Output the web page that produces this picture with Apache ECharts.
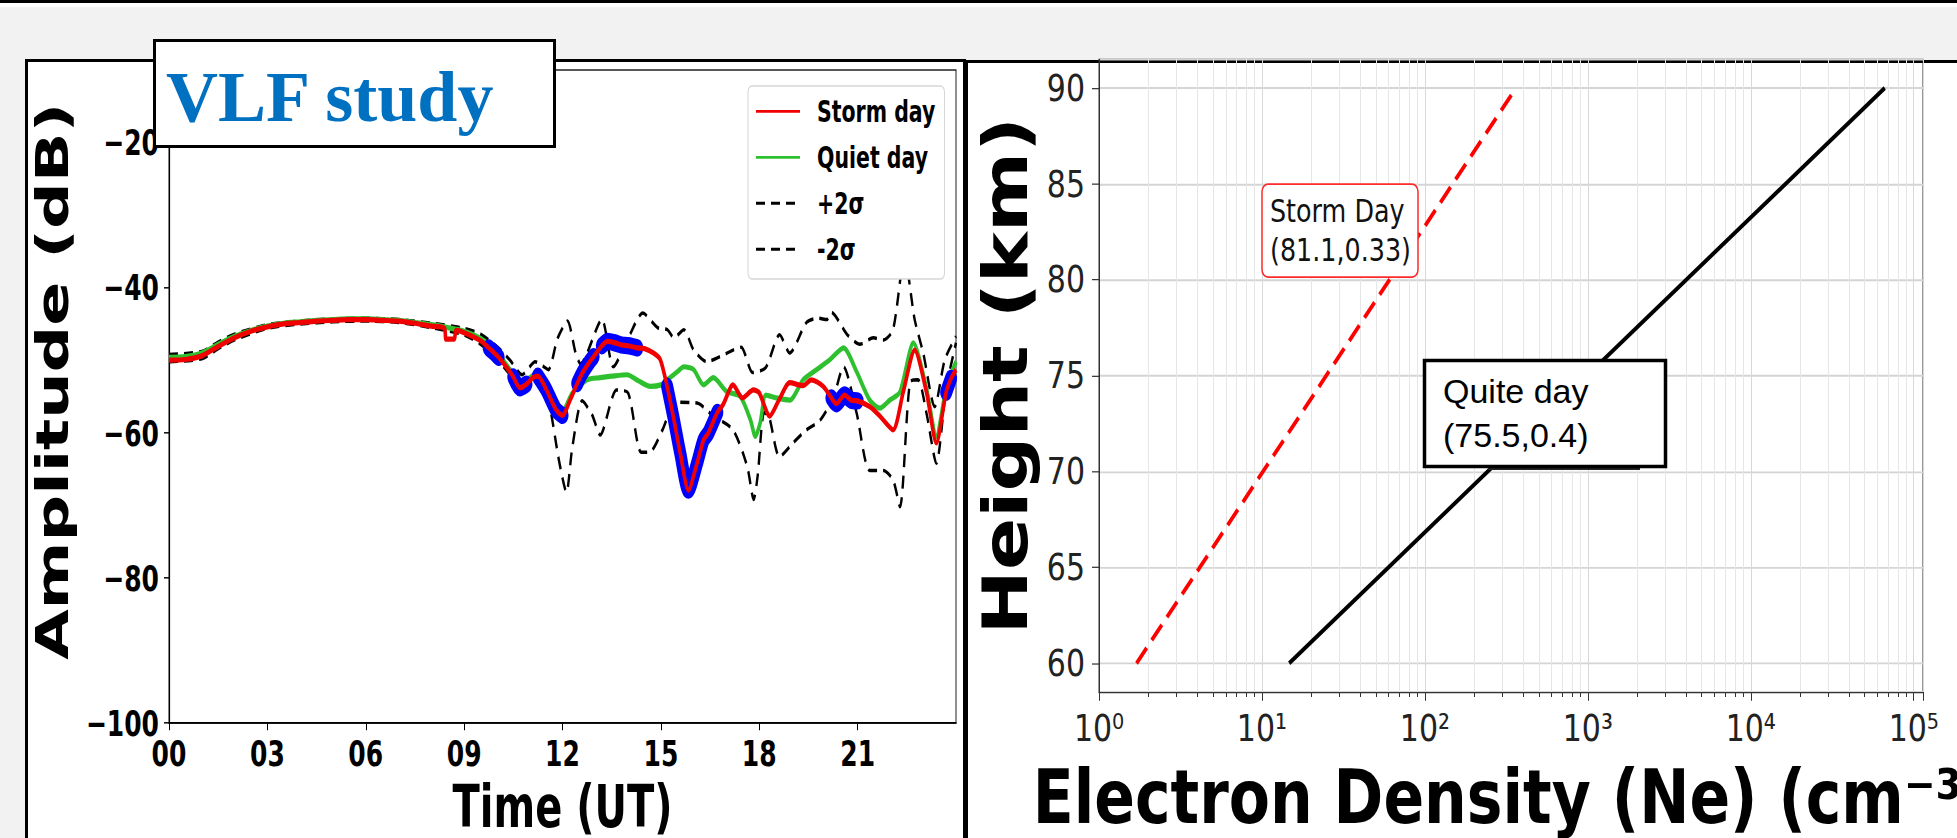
<!DOCTYPE html>
<html>
<head>
<meta charset="utf-8">
<title>VLF study</title>
<script src="https://cdn.jsdelivr.net/npm/echarts@6/dist/echarts.min.js"></script>
<style>
  html, body { margin: 0; padding: 0; }
  body { width: 1957px; height: 838px; background: #f2f2f2; position: relative; overflow: hidden; }
  .topbar { position: absolute; left: 0; top: 0; width: 1957px; height: 3px; background: #000; }
  .topwhite { position: absolute; left: 0; top: 3px; width: 1957px; height: 4px; background: #fff; }
  .panel-left { position: absolute; left: 25px; top: 59px; width: 935px; height: 800px; border: 3px solid #000; background: #fff; }
  .panel-right { position: absolute; left: 965px; top: 60px; width: 1000px; height: 800px; border-top: 3px solid #000; border-left: 3px solid #000; background: #fff; }
  /* both source figures are stretched vertically in the slide */
  #left { position: absolute; left: 0; top: 0; width: 968px; height: 578px; transform: scaleY(1.45); transform-origin: 0 0; }
  #right { position: absolute; left: 968px; top: 0; width: 989px; height: 676px; transform: scaleY(1.24); transform-origin: 0 0; }
  #overlay { position: absolute; left: 0; top: 0; width: 1957px; height: 838px; pointer-events: none; }
</style>
</head>
<body>
<div class="topbar"></div>
<div class="topwhite"></div>
<div class="panel-left"></div>
<div class="panel-right"></div>
<div id="left"></div>
<div id="right"></div>
<div id="overlay"></div>
<script>
// ---- left panel: VLF amplitude, [hour UT, dB]
var stormDay = [
  [0, -50.0], [0.5, -49.9], [1, -49.4], [1.5, -48.1], [2, -46.9], [2.5, -46.0], [3, -45.4], [3.5, -45.0],
  [4, -44.8], [4.5, -44.6], [5, -44.5], [5.5, -44.4], [6, -44.4], [6.5, -44.5], [7, -44.6], [7.5, -44.9],
  [8, -45.3], [8.4, -45.6], [8.45, -47.1], [8.7, -47.1], [8.75, -45.9], [9, -46.2], [9.5, -47.3],
  [9.75, -48.3], [9.9, -48.9], [10.05, -49.6], [10.3, -51.0], [10.5, -52.3], [10.7, -53.8], [10.9, -53.3],
  [11.1, -52.4], [11.25, -52.2], [11.5, -54.0], [11.8, -56.8], [12, -57.6], [12.24, -55.4], [12.45, -53.2],
  [12.6, -51.8], [12.8, -50.4], [12.95, -49.5], [13.2, -48.0], [13.37, -47.4], [13.6, -47.6], [13.8, -47.9],
  [14, -48.0], [14.28, -48.3], [14.5, -48.4], [14.77, -49.0], [14.98, -49.9], [15.19, -53.6], [15.38, -57.8],
  [15.59, -62.8], [15.84, -67.9], [16.11, -64.1], [16.3, -61.0], [16.45, -60.0], [16.72, -57.2], [16.9, -56.1],
  [17.2, -53.4], [17.49, -55.2], [17.82, -54.1], [18, -54.5], [18.32, -57.7], [18.6, -55.5], [18.93, -53.1],
  [19.34, -53.5], [19.59, -52.7], [19.95, -53.6], [20.2, -55.2], [20.35, -56.0], [20.6, -54.8], [20.8, -55.5],
  [21, -55.6], [21.37, -56.4], [21.68, -57.7], [22.08, -59.6], [22.39, -54.4], [22.74, -48.6], [23.1, -54.4],
  [23.4, -61.4], [23.7, -54.4], [23.85, -52.5], [24, -51.3]
];
var quietDay = [
  [0, -49.6], [0.5, -49.5], [1, -49.0], [1.5, -47.8], [2, -46.7], [2.5, -45.9], [3, -45.3], [3.5, -44.9],
  [4, -44.7], [4.5, -44.5], [5, -44.4], [5.5, -44.3], [6, -44.3], [6.5, -44.4], [7, -44.5], [7.5, -44.8],
  [8, -45.1], [8.5, -45.5], [9, -46.0], [9.5, -47.0], [10, -48.8], [10.4, -51.3], [10.75, -53.0], [11, -52.4],
  [11.25, -51.7], [11.5, -53.0], [11.8, -55.6], [12, -57.0], [12.3, -54.5], [12.75, -52.7], [13.15, -52.4],
  [13.5, -52.2], [13.97, -52.0], [14.3, -52.8], [14.68, -53.6], [15, -53.4], [15.2, -52.7], [15.5, -51.6],
  [15.7, -50.9], [16, -51.3], [16.3, -53.4], [16.6, -52.4], [17, -54.3], [17.42, -55.0], [17.73, -58.2],
  [17.88, -60.5], [18.03, -58.6], [18.2, -54.8], [18.52, -55.2], [18.93, -55.5], [19.34, -52.7], [19.75, -51.3],
  [20.16, -49.9], [20.57, -48.3], [20.97, -51.6], [21.37, -55.5], [21.68, -56.6], [21.98, -55.5], [22.29, -54.4],
  [22.7, -47.6], [23.1, -53.9], [23.4, -60.5], [23.7, -53.9], [24, -50.2]
];
var upper2Sigma = [
  [0, -49.2], [1, -48.8], [1.5, -47.5], [2, -46.4], [3, -45.1], [4, -44.6], [5, -44.3], [6, -44.2], [7, -44.4],
  [8, -44.9], [9, -45.6], [9.5, -46.4], [10.05, -48.3], [10.4, -50.0], [10.77, -52.0], [11.17, -50.2],
  [11.4, -50.8], [11.57, -51.3], [11.85, -47.0], [12.15, -44.6], [12.4, -49.0], [12.55, -50.5], [13.2, -44.4],
  [13.55, -50.9], [14, -47.0], [14.45, -43.5], [14.9, -45.5], [15.2, -45.8], [15.4, -46.9], [15.7, -45.8],
  [16, -48.6], [16.4, -50.2], [16.8, -49.5], [17.2, -48.6], [17.45, -48.2], [17.8, -51.7], [18.2, -51.0],
  [18.62, -46.5], [18.93, -49.0], [19.44, -44.8], [19.8, -44.2], [20.06, -44.4], [20.2, -43.4], [20.67, -46.4],
  [21.07, -47.8], [21.48, -46.9], [21.78, -47.2], [22.08, -45.8], [22.43, -35.8], [22.74, -44.4], [23, -49.0],
  [23.35, -56.4], [23.66, -49.9], [24, -46.7]
];
var lower2Sigma = [
  [0, -50.2], [1, -49.8], [1.5, -48.4], [2, -47.2], [3, -45.6], [4, -45.0], [5, -44.7], [6, -44.6], [7, -44.8],
  [8, -45.5], [9, -46.5], [9.5, -47.8], [10, -49.8], [10.4, -52.0], [10.75, -53.8], [11.1, -52.3], [11.35, -52.0],
  [11.6, -56.0], [11.9, -64.0], [12.12, -68.2], [12.3, -62.0], [12.6, -55.6], [12.9, -57.5], [13.15, -60.3],
  [13.65, -54.1], [14, -54.5], [14.4, -62.7], [14.68, -62.6], [15.05, -59.6], [15.45, -55.8], [16.1, -55.9],
  [16.6, -57.7], [17.2, -59.6], [17.63, -64.6], [17.83, -69.2], [17.95, -66.0], [18.15, -57.2], [18.3, -57.8],
  [18.62, -63.3], [19.03, -61.4], [19.44, -59.6], [19.85, -58.3], [20.26, -55.1], [20.57, -50.9], [20.97, -57.3],
  [21.37, -65.2], [21.78, -65.2], [22.08, -66.5], [22.29, -70.2], [22.6, -53.0], [22.84, -52.7], [23.1, -57.3],
  [23.4, -64.2], [23.7, -53.9], [24, -47.6]
];
// hours where the storm day curve is marked in blue
var highlightSpans = [[9.7, 10.05], [10.5, 10.95], [11.25, 12.0], [12.45, 12.95], [13.2, 14.28],
  [15.19, 16.75], [20.05, 21.0], [23.55, 23.95]];

// ---- right panel: electron density profile, [Ne cm^-3, height km]
var stormProfile = [[1.7, 60], [362, 90]];
var quietProfile = [[14.7, 60], [66400, 90]];
var superDigits = ['\u2070', '\u00B9', '\u00B2', '\u00B3', '\u2074', '\u2075'];

var highlightData = [];
highlightSpans.forEach(function (span) {
  stormDay.forEach(function (p) {
    if (p[0] >= span[0] && p[0] <= span[1]) highlightData.push(p);
  });
  highlightData.push([span[1], '-']);
});

var boldFont = {fontFamily: 'DejaVu Sans', fontWeight: 'bold', color: '#000'};

// left chart
var leftChart = echarts.init(document.getElementById('left'), null, {renderer: 'svg'});
var leftOption = {
  animation: false,
  grid: {left: 169, right: 12, top: 48.3, bottom: 79.4, show: true, borderColor: '#222', borderWidth: 1,
    outerBoundsMode: 'none'},
  legend: {
    orient: 'vertical',
    left: 748,
    top: 59.3,
    padding: [7, 9, 10, 7],
    itemWidth: 44,
    itemHeight: 12,
    itemGap: 10.7,
    backgroundColor: '#fff',
    borderColor: '#d6d6d6',
    borderWidth: 1,
    borderRadius: 4,
    itemStyle: {opacity: 0},
    textStyle: {fontFamily: 'DejaVu Sans', fontWeight: 'bold', fontSize: 20.5, color: '#000', padding: [0, 0, 0, 12]},
    data: ['Storm day', 'Quiet day', '+2\u03C3', '-2\u03C3']
  },
  xAxis: {
    type: 'value', min: 0, max: 24, interval: 3,
    name: 'Time (UT)', nameLocation: 'middle', nameGap: 37,
    nameTextStyle: Object.assign({fontSize: 40}, boldFont),
    axisLine: {lineStyle: {color: '#000', width: 1.2}},
    axisTick: {length: 5, lineStyle: {color: '#000'}},
    axisLabel: Object.assign({fontSize: 25, margin: 8, showMaxLabel: false,
      formatter: function (v) { return (v < 10 ? '0' : '') + v; }}, boldFont),
    splitLine: {show: false}
  },
  yAxis: {
    type: 'value', min: -100, max: -10, interval: 20,
    name: 'Amplitude (dB)', nameLocation: 'middle', nameGap: 72,
    nameTextStyle: Object.assign({fontSize: 45, padding: [0, 0, 0, 21]}, boldFont),
    axisLine: {lineStyle: {color: '#000', width: 1.2}},
    axisTick: {length: 5, lineStyle: {color: '#000'}},
    axisLabel: Object.assign({fontSize: 25, margin: 10, showMaxLabel: false,
      formatter: function (v) { return String(v).replace('-', '\u2212'); }}, boldFont),
    splitLine: {show: false}
  },
  series: [
    {name: '+2\u03C3', type: 'line', data: upper2Sigma, symbol: 'none', smooth: 0.25, z: 2, color: '#000',
      lineStyle: {color: '#000', width: 2.4, type: [9, 6]}},
    {name: '-2\u03C3', type: 'line', data: lower2Sigma, symbol: 'none', smooth: 0.25, z: 2, color: '#000',
      lineStyle: {color: '#000', width: 2.4, type: [9, 6]}},
    {name: 'Quiet day', type: 'line', data: quietDay, symbol: 'none', smooth: 0.25, z: 3, color: '#2fc02f',
      lineStyle: {color: '#2fc02f', width: 3.6}},
    {name: 'highlight', type: 'line', data: highlightData, symbol: 'none', smooth: 0.25, z: 4, color: '#0000ff',
      connectNulls: false, lineStyle: {color: '#0000ff', width: 12, cap: 'round', join: 'round'}},
    {name: 'Storm day', type: 'line', data: stormDay, symbol: 'none', smooth: 0.25, z: 5, color: '#f00000',
      lineStyle: {color: '#f00000', width: 3.6}}
  ]
};
leftChart.setOption(leftOption);

// right chart
var rightChart = echarts.init(document.getElementById('right'), null, {renderer: 'svg'});
var rightOption = {
  animation: false,
  grid: {left: 131, right: 34, top: 47.8, bottom: 117.9, show: true, borderColor: '#333', borderWidth: 1,
    outerBoundsMode: 'none'},
  xAxis: {
    type: 'log', logBase: 10, min: 1, max: 114000,
    name: 'Electron Density (Ne) (cm\u207B\u00B3)', nameLocation: 'middle', nameGap: 55,
    nameTextStyle: Object.assign({fontSize: 60}, boldFont),
    axisLine: {lineStyle: {color: '#333', width: 1}},
    axisTick: {length: 7, lineStyle: {color: '#333'}},
    minorTick: {show: true, splitNumber: 9, length: 4, lineStyle: {color: '#333'}},
    axisLabel: {fontFamily: 'DejaVu Sans', fontSize: 30, color: '#222', margin: 14, showMaxLabel: false,
      formatter: function (v) { return '10' + superDigits[Math.round(Math.log10(v))]; }},
    splitLine: {show: true, lineStyle: {color: '#d8d8d8', width: 1}},
    minorSplitLine: {show: true, lineStyle: {color: '#e6e6e6', width: 1}}
  },
  yAxis: {
    type: 'value', min: 58.5, max: 91.5, splitNumber: 6,
    name: 'Height (km)', nameLocation: 'middle', nameGap: 62,
    nameTextStyle: Object.assign({fontSize: 62}, boldFont),
    axisLine: {lineStyle: {color: '#333', width: 1}},
    axisTick: {length: 7, lineStyle: {color: '#333'}},
    axisLabel: {fontFamily: 'DejaVu Sans', fontSize: 30, color: '#222', margin: 14,
      showMinLabel: false, showMaxLabel: false},
    splitLine: {show: true, lineStyle: {color: '#d4d4d4', width: 1.5}}
  },
  series: [
    {name: 'Storm Day', type: 'line', data: stormProfile, symbol: 'none', z: 3,
      lineStyle: {color: '#ff0000', width: 3.5, type: [16, 8]}},
    {name: 'Quite day', type: 'line', data: quietProfile, symbol: 'none', z: 3,
      lineStyle: {color: '#000', width: 3.5}}
  ],
  graphic: [
    {type: 'rect', z: 100, shape: {x: 294, y: 148.5, width: 156, height: 75, r: 6},
      style: {fill: '#fff', stroke: '#ff2a2a', lineWidth: 1.5}},
    {type: 'text', z: 101, x: 302, y: 186,
      style: {text: 'Storm Day\n(81.1,0.33)', fontFamily: 'DejaVu Sans', fontSize: 25.4, lineHeight: 31,
        fill: '#111', verticalAlign: 'middle'}}
  ]
};
rightChart.setOption(rightOption);

// slide overlays
var overlayChart = echarts.init(document.getElementById('overlay'), null, {renderer: 'svg'});
overlayChart.setOption({
  animation: false,
  graphic: [
    {type: 'rect', shape: {x: 154.5, y: 40.5, width: 400, height: 106},
      style: {fill: '#fff', stroke: '#000', lineWidth: 3}},
    {type: 'text', x: 166, y: 97,
      style: {text: 'VLF study', fontFamily: 'Liberation Serif', fontWeight: 'bold', fontSize: 72,
        fill: '#0070c0', verticalAlign: 'middle'}},
    {type: 'line', shape: {x1: 1488, y1: 469, x2: 1640, y2: 469}, style: {stroke: '#222', lineWidth: 2}},
    {type: 'rect', shape: {x: 1424.5, y: 360.5, width: 241, height: 106},
      style: {fill: '#fff', stroke: '#000', lineWidth: 3.5}},
    {type: 'text', x: 1443, y: 413,
      style: {text: 'Quite day\n(75.5,0.4)', fontFamily: 'Liberation Sans', fontSize: 34, lineHeight: 44,
        fill: '#000', verticalAlign: 'middle'}}
  ]
});
</script>
</body>
</html>
